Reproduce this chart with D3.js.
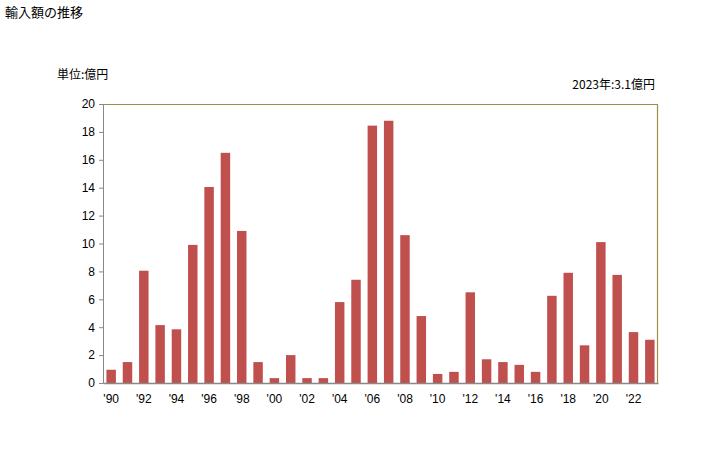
<!DOCTYPE html>
<html>
<head>
<meta charset="utf-8">
<script src="https://cdn.jsdelivr.net/npm/d3@7"></script>
<style>
  body { margin: 0; background: #fff; }
  text { font-family: "Noto Sans CJK JP", "DejaVu Sans", sans-serif; }
</style>
</head>
<body>
<script>
// data
var years = d3.range(1990, 2024);
var values = [0.95, 1.5, 8.05, 4.15, 3.85, 9.9, 14.05, 16.5, 10.9, 1.5,
              0.35, 2.0, 0.35, 0.35, 5.8, 7.4, 18.45, 18.8, 10.6, 4.8,
              0.65, 0.8, 6.5, 1.7, 1.5, 1.3, 0.8, 6.25, 7.9, 2.7,
              10.1, 7.75, 3.65, 3.1];
var yTicks = [0, 2, 4, 6, 8, 10, 12, 14, 16, 18, 20];

var margin = {top: 104, right: 70, bottom: 67, left: 103},
    width = 728 - margin.left - margin.right,
    height = 450 - margin.top - margin.bottom;

const svg = d3.select('body')
    .append("svg")
        .attr("width", 728)
        .attr("height", 450)

svg.append("text")
    .attr("x", 5).attr("y", 17)
    .attr("font-size", 13)
    .text("輸入額の推移")

svg.append("text")
    .attr("x", 57).attr("y", 79)
    .attr("font-size", 12)
    .text("単位:億円")

svg.append("text")
    .attr("x", 655).attr("y", 89)
    .attr("text-anchor", "end")
    .attr("font-size", 12)
    .text("2023年:3.1億円")

const g = svg.append("g")
    .attr("transform", `translate(${margin.left},${margin.top})`)

const x = d3.scaleBand()
    .domain(years)
    .range([0, width])
    .paddingInner(0.42)
    .paddingOuter(0.21);

const y = d3.scaleLinear()
    .domain([0, 20])
    .range([height, 0]);

// frame (top & right)
g.append("path")
    .attr("d", `M0,0.5H${width - 0.5}V${height}`)
    .attr("fill", "none")
    .attr("stroke", "#9c8f4a")
    .attr("stroke-width", 1.2)

g.selectAll("rect.bar")
    .data(values)
    .enter().append("rect")
        .attr("class", "bar")
        .attr("x", (d, i) => x(years[i]))
        .attr("y", d => y(d))
        .attr("width", x.bandwidth())
        .attr("height", d => height - y(d))
        .attr("fill", "#c0504d")

// y axis
const yAxis = g.append("g")
    .call(d3.axisLeft(y).tickValues(yTicks).tickSize(4).tickPadding(4))
yAxis.select(".domain").attr("stroke", "#888")
yAxis.selectAll(".tick line").attr("stroke", "#888")
yAxis.selectAll("text").attr("font-size", 12).attr("fill", "#000")
    .style("font-family", "'Liberation Sans', Arial, sans-serif")

// x axis
const xAxis = g.append("g")
    .attr("transform", `translate(0,${height})`)
    .call(d3.axisBottom(x)
        .tickValues(years.filter(v => v % 2 === 0))
        .tickFormat(v => "'" + String(v).slice(2))
        .tickSize(0).tickPadding(11))
xAxis.select(".domain").attr("stroke", "#888").attr("stroke-width", 1.5)
xAxis.selectAll("text").attr("font-size", 12).attr("fill", "#000")
    .style("font-family", "'Liberation Sans', Arial, sans-serif")
</script>
</body>
</html>
